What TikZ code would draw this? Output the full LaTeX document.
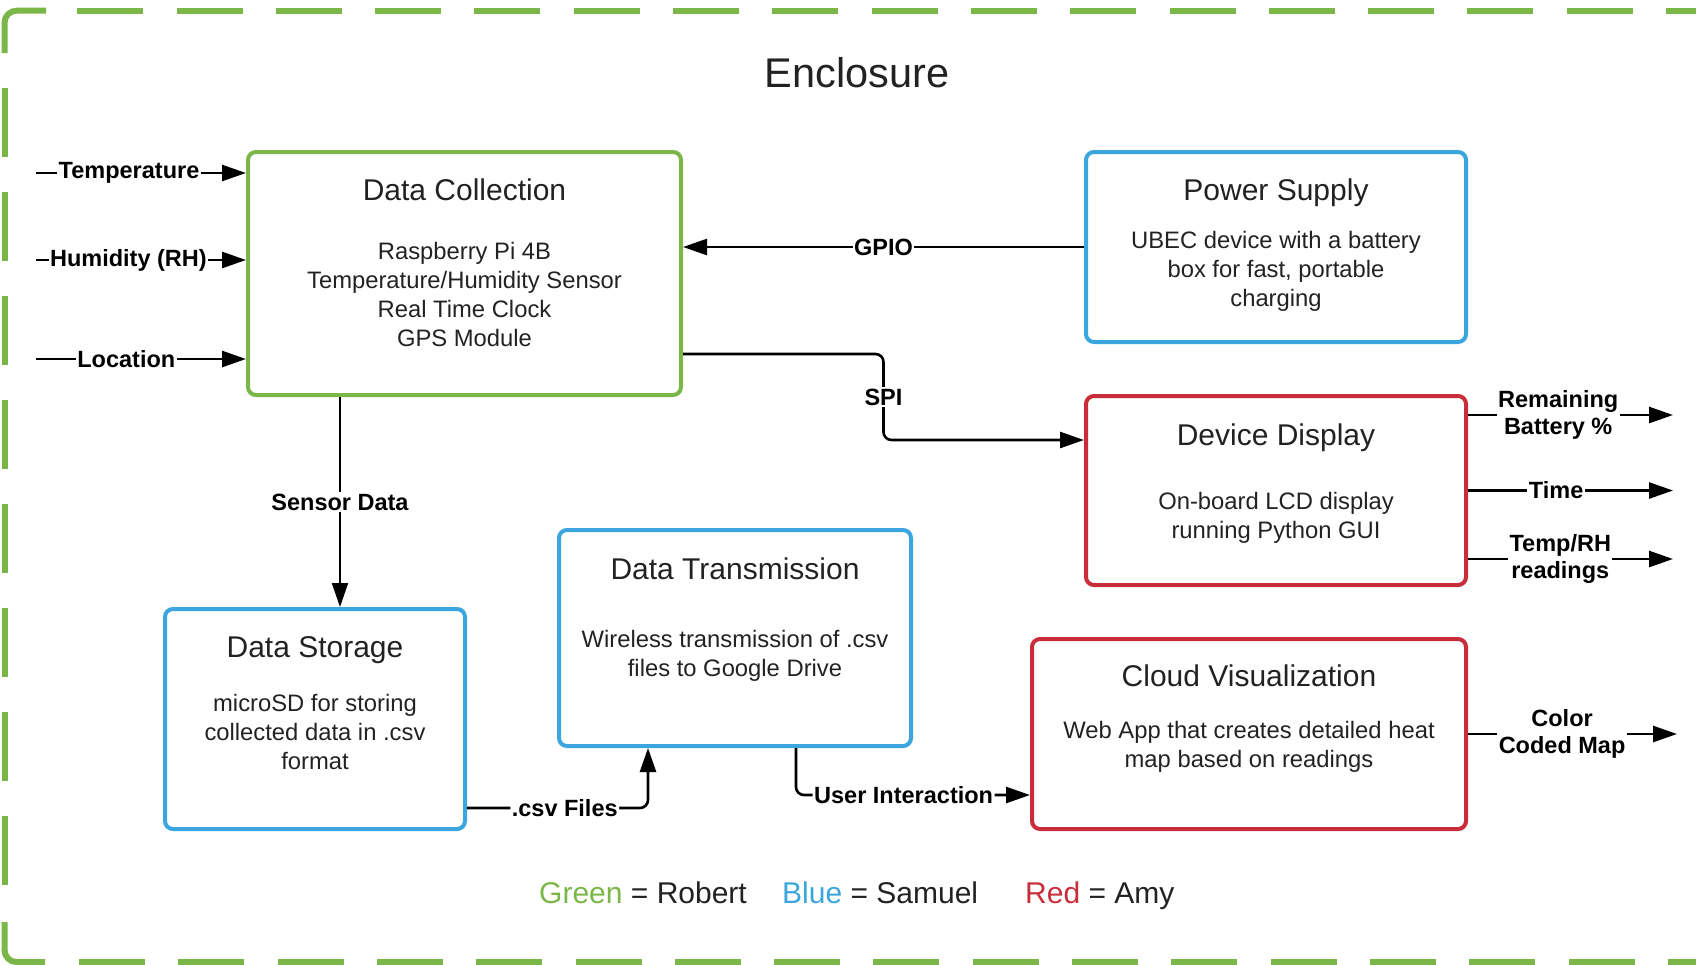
\documentclass[tikz,border=0pt]{standalone}
\usepackage{fontspec}
\setmainfont{Liberation Sans}
\usetikzlibrary{calc, positioning, arrows.meta}
\definecolor{lgreen}{HTML}{7AB648}
\definecolor{lblue}{HTML}{3AA6DD}
\definecolor{lred}{HTML}{C92D39}
\definecolor{ink}{HTML}{222222}
\tikzstyle{block}=[rectangle, draw, line width=4pt, rounded corners=8pt, inner sep=0pt]
\tikzstyle{green block}=[block, draw=lgreen]
\tikzstyle{blue block}=[block, draw=lblue]
\tikzstyle{red block}=[block, draw=lred]
\tikzstyle{block title}=[anchor=base, inner sep=0pt, text=ink, font=\fontsize{30}{36}\selectfont]
\tikzstyle{block text}=[anchor=base, inner sep=0pt, align=center, text=ink, font=\fontsize{23.8}{29}\selectfont]
\tikzstyle{link}=[-{Triangle[length=24pt,width=16pt]}, line width=2.6pt]
\tikzstyle{link label}=[fill=white, inner sep=1.5pt, align=center, font=\fontsize{23.5}{27}\selectfont\bfseries]
\tikzstyle{enclosure}=[lgreen, line width=6pt]
\tikzstyle{legend}=[anchor=base west, inner sep=0pt, text=ink, font=\fontsize{30}{36}\selectfont]

\begin{document}
\begin{tikzpicture}[x=1pt, y=-1pt]
	\useasboundingbox (0,0) rectangle (1696,964);

	% Enclosure outline
	\draw[enclosure, dash pattern=on 66pt off 33.3pt] (1732,10.7) -- (46,10.7);
	\draw[enclosure, rounded corners=12pt] (46,10.7) -- (4.5,10.7) -- (4.5,53);
	\draw[enclosure, dash pattern=on 69pt off 35pt] (4.5,88) -- (4.5,886);
	\draw[enclosure, rounded corners=12pt] (4.5,922) -- (4.5,962) -- (45,962);
	\draw[enclosure, dash pattern=on 66pt off 33.3pt] (79,962) -- (1740,962);
	\node[anchor=base, inner sep=0pt, text=ink, font=\fontsize{41.5}{48}\selectfont] (enc title) at (857,87) {Enclosure};

	% Draw the blocks
	\node[green block, minimum width=433pt, minimum height=243pt] (dc) at (464.5,273.5) {};
	\node[blue block, minimum width=380pt, minimum height=190pt] (ps) at (1276,247) {};
	\node[red block, minimum width=380pt, minimum height=189pt] (dd) at (1276,490.5) {};
	\node[blue block, minimum width=300pt, minimum height=220pt] (ds) at (315,719) {};
	\node[blue block, minimum width=352pt, minimum height=216pt] (dt) at (735,638) {};
	\node[red block, minimum width=434pt, minimum height=190pt] (cv) at (1249,734) {};

	% Titles and descriptions (text anchored at its last line)
	\node[block title] (dc title) at ($(dc.north)+(0,50)$) {Data Collection};
	\node[block text] (dc text) at ($(dc.north)+(0,196)$) {Raspberry Pi 4B\\Temperature/Humidity Sensor\\Real Time Clock\\GPS Module};
	\node[block title] (ps title) at ($(ps.north)+(0,50)$) {Power Supply};
	\node[block text] (ps text) at ($(ps.north)+(0,156)$) {UBEC device with a battery\\box for fast, portable\\charging};
	\node[block title] (dd title) at ($(dd.north)+(0,51)$) {Device Display};
	\node[block text] (dd text) at ($(dd.north)+(0,144)$) {On-board LCD display\\running Python GUI};
	\node[block title] (ds title) at ($(ds.north)+(0,50)$) {Data Storage};
	\node[block text] (ds text) at ($(ds.north)+(0,162)$) {microSD for storing\\collected data in .csv\\format};
	\node[block title] (dt title) at ($(dt.north)+(0,51)$) {Data Transmission};
	\node[block text] (dt text) at ($(dt.north)+(0,148)$) {Wireless transmission of .csv\\files to Google Drive};
	\node[block title] (cv title) at ($(cv.north)+(0,49)$) {Cloud Visualization};
	\node[block text] (cv text) at ($(cv.north)+(0,130)$) {Web App that creates detailed heat\\map based on readings};

	% Inputs to the data collection block
	\coordinate (temp in) at (36,173);
	\coordinate (hum in) at (36,260);
	\coordinate (loc in) at (36,359);
	\draw[link] (temp in) -- node[link label, pos=0.443] {Temperature} (temp in -| dc.west);
	\draw[link] (hum in) -- node[link label, pos=0.44] {Humidity (RH)} (hum in -| dc.west);
	\draw[link] (loc in) -- node[link label, pos=0.43] {Location} (loc in -| dc.west);

	% Links between blocks
	\draw[link] (ps.west) -- node[link label] {GPIO} (ps.west -| dc.east);

	\coordinate (spi out) at ($(dc.south east)+(0,-43)$);
	\coordinate (spi in) at ($(dd.north west)+(0,46)$);
	\coordinate (spi mid) at ($(spi out)!0.5!(spi in)$);
	\draw[link, rounded corners=8pt] (spi out) -| (spi mid) |- (spi in);
	\node[link label] (spi label) at (spi mid) {SPI};

	\coordinate (sd out) at ($(dc.south west)+(94,0)$);
	\draw[link, line width=2pt] (sd out) -- node[link label] {Sensor Data} (sd out |- ds.north);

	\coordinate (csv out) at ($(ds.south east)+(0,-23)$);
	\coordinate (csv in) at ($(dt.south west)+(91,0)$);
	\draw[link, rounded corners=8pt] (csv out) -| node[link label, pos=0.27] {.csv Files} (csv in);

	\coordinate (ui out) at ($(dt.south west)+(239,0)$);
	\coordinate (ui in) at ($(cv.south west)+(0,-36)$);
	\draw[link, rounded corners=8pt] (ui out) |- node[link label, pos=0.73] {User Interaction} (ui in);

	% Outputs
	\coordinate (bat out) at (1673,415);
	\coordinate (time out) at (1673,490.5);
	\coordinate (rh out) at (1673,559);
	\coordinate (map out) at (1677,734);
	\draw[link] (dd.east |- bat out) -- node[link label, pos=0.44] {Remaining\\Battery \%} (bat out);
	\draw[link] (dd.east |- time out) -- node[link label, pos=0.43] {Time} (time out);
	\draw[link] (dd.east |- rh out) -- node[link label, pos=0.45] {Temp/RH\\readings} (rh out);
	\draw[link] (cv.east |- map out) -- node[link label, pos=0.45] {Color\\Coded Map} (map out);

	% Legend
	\node[legend] (green key) at (539,903) {\textcolor{lgreen}{Green} = Robert};
	\node[legend] (blue key) at (782,903) {\textcolor{lblue}{Blue} = Samuel};
	\node[legend] (red key) at (1025,903) {\textcolor{lred}{Red} = Amy};
\end{tikzpicture}
\end{document}
